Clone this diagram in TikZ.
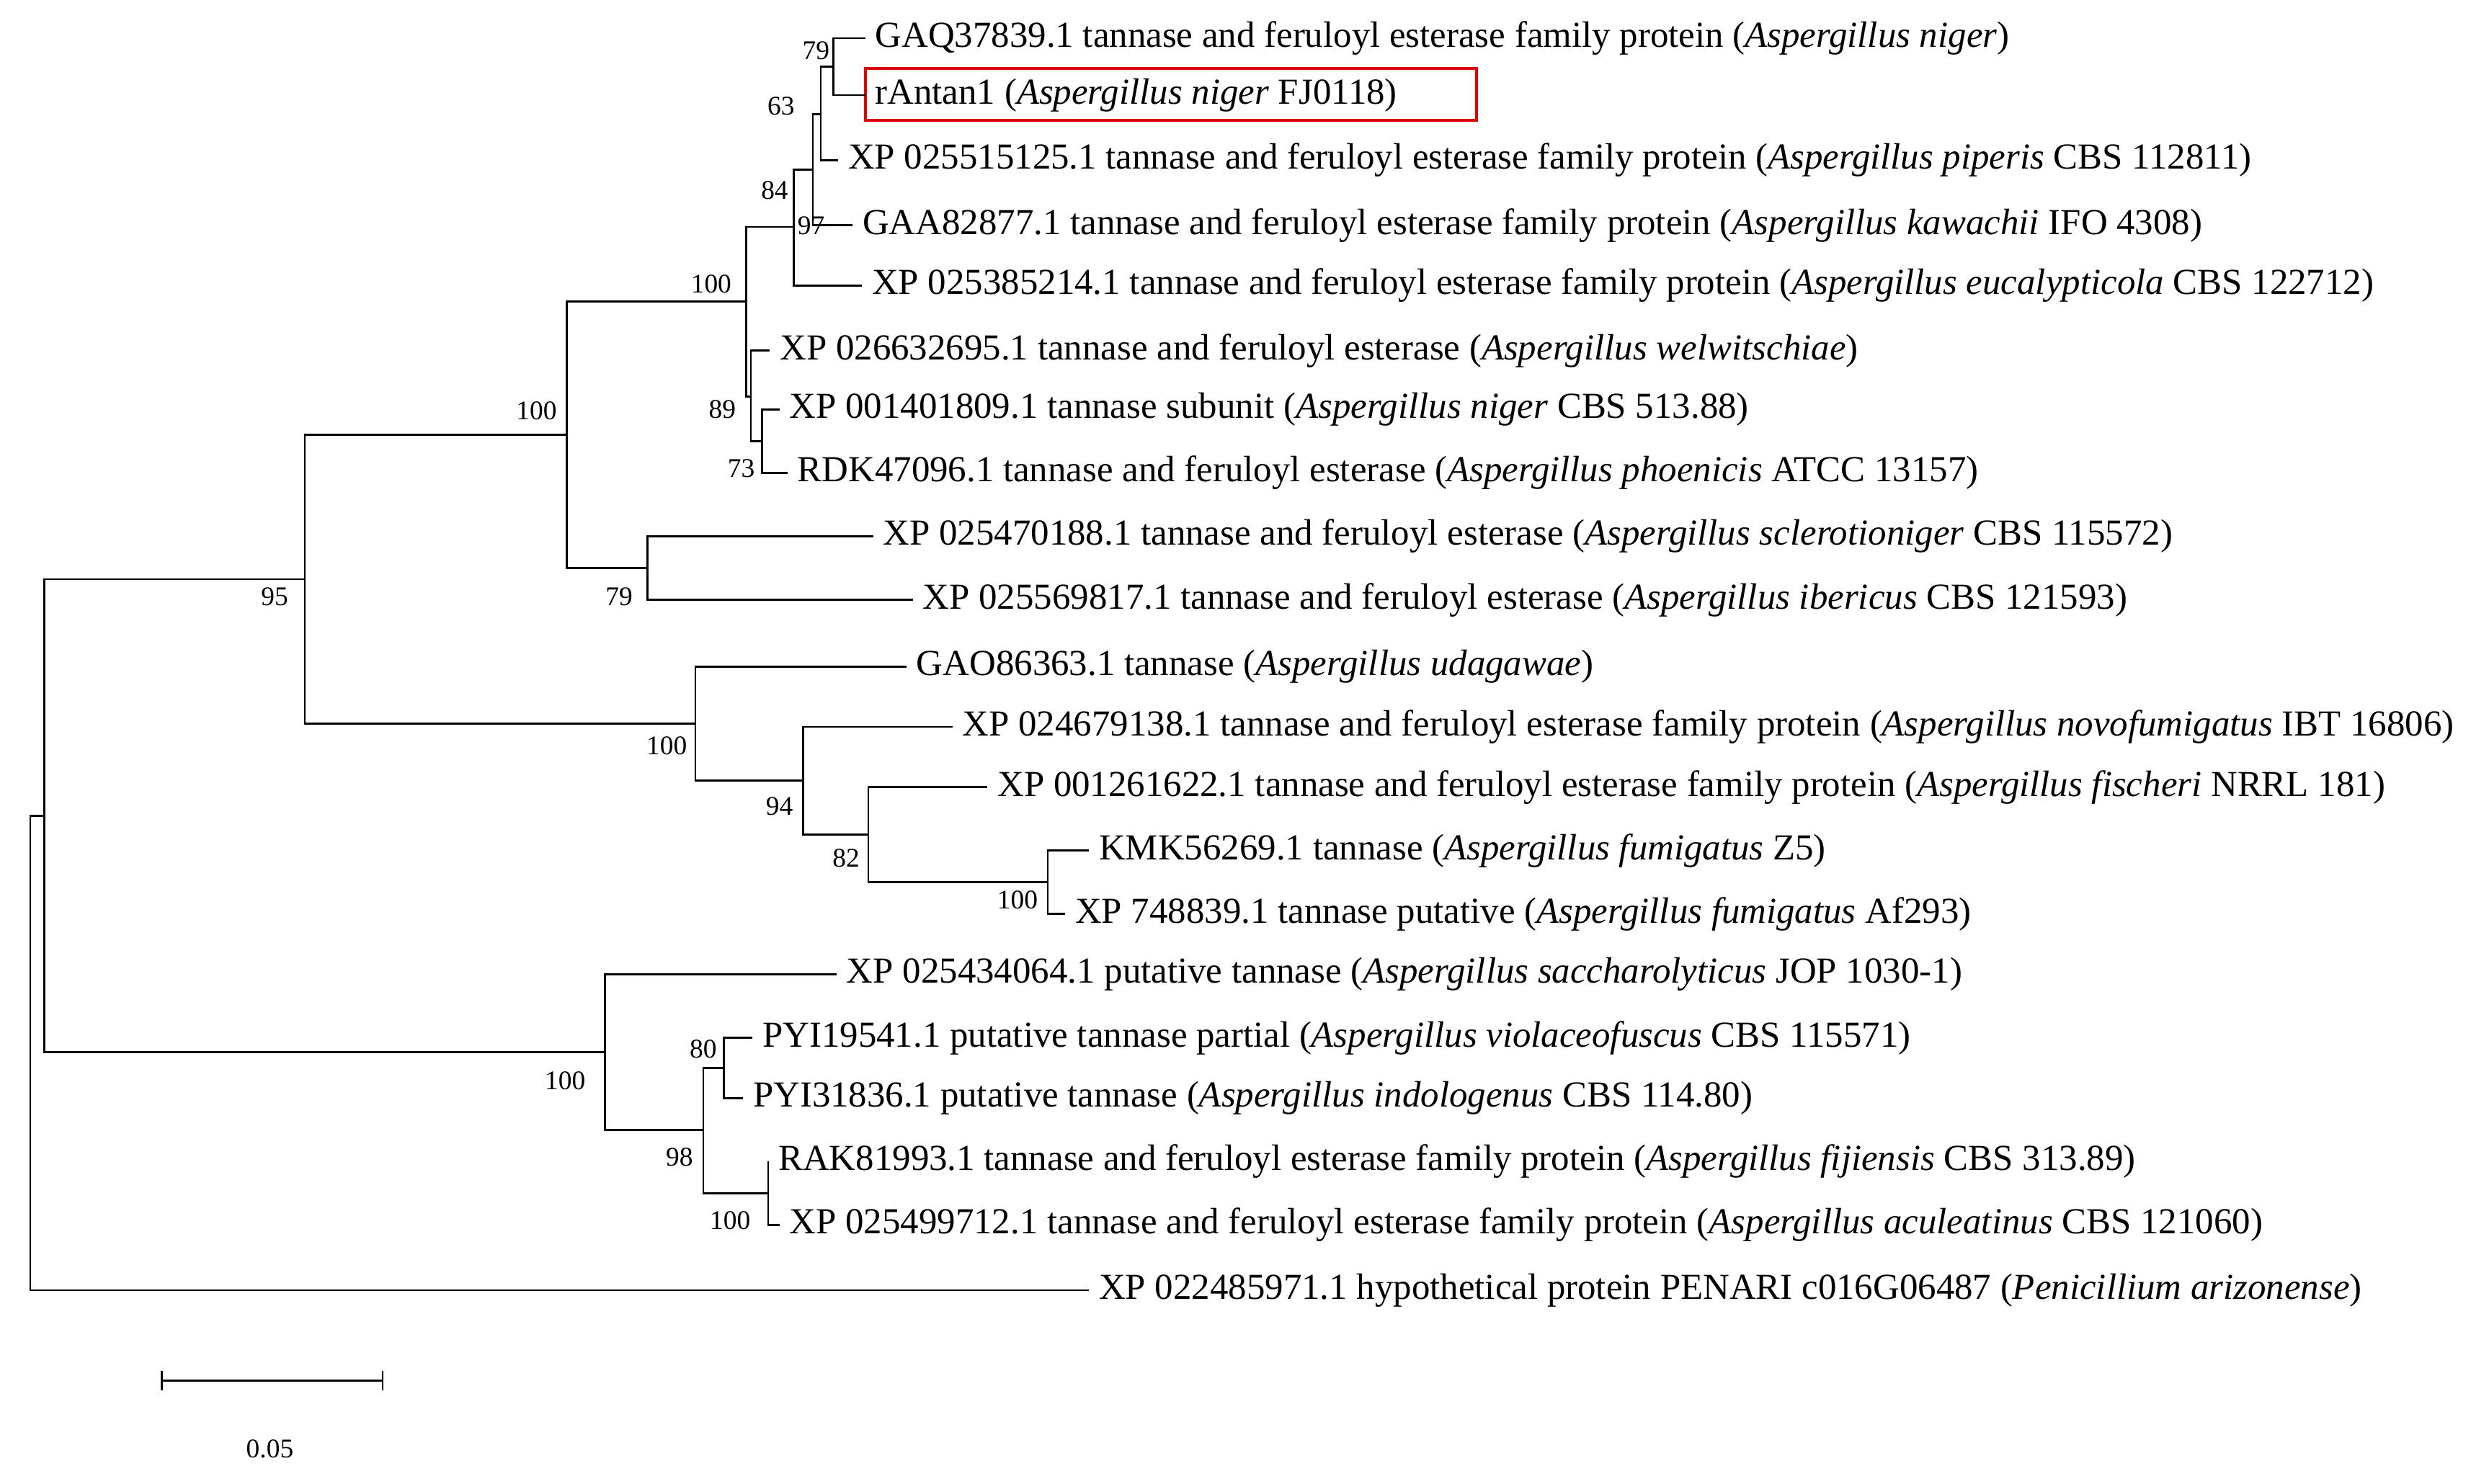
\documentclass[tikz,border=0pt]{standalone}
\usepackage{fontspec}
\setmainfont{Liberation Serif}
\begin{document}
\begin{tikzpicture}[x=0.5pt,y=-0.5pt,
  leaf/.style={anchor=west,inner xsep=3pt,inner ysep=1pt,font=\fontsize{11.55}{13}\selectfont},
  bs/.style={font=\fontsize{8.5}{10}\selectfont,inner sep=0pt},
  br/.style={line width=0.6pt}]
\useasboundingbox (0,0) rectangle (1568,935);
% leaves
\node[leaf] (l1) at (545,24) {GAQ37839.1 tannase and feruloyl esterase family protein (\textit{Aspergillus niger})};
\node[leaf] (l2) at (545,60) {rAntan1 (\textit{Aspergillus niger} FJ0118)};
\node[leaf] (l3) at (528,101) {XP 025515125.1 tannase and feruloyl esterase family protein (\textit{Aspergillus piperis} CBS 112811)};
\node[leaf] (l4) at (537,142) {GAA82877.1 tannase and feruloyl esterase family protein (\textit{Aspergillus kawachii} IFO 4308)};
\node[leaf] (l5) at (543,180) {XP 025385214.1 tannase and feruloyl esterase family protein (\textit{Aspergillus eucalypticola} CBS 122712)};
\node[leaf] (l6) at (485,221) {XP 026632695.1 tannase and feruloyl esterase (\textit{Aspergillus welwitschiae})};
\node[leaf] (l7) at (491,258) {XP 001401809.1 tannase subunit (\textit{Aspergillus niger} CBS 513.88)};
\node[leaf] (l8) at (496,298) {RDK47096.1 tannase and feruloyl esterase (\textit{Aspergillus phoenicis} ATCC 13157)};
\node[leaf] (l9) at (550,338) {XP 025470188.1 tannase and feruloyl esterase (\textit{Aspergillus sclerotioniger} CBS 115572)};
\node[leaf] (l10) at (575,378) {XP 025569817.1 tannase and feruloyl esterase (\textit{Aspergillus ibericus} CBS 121593)};
\node[leaf] (l11) at (571,420) {GAO86363.1 tannase (\textit{Aspergillus udagawae})};
\node[leaf] (l12) at (600,458) {XP 024679138.1 tannase and feruloyl esterase family protein (\textit{Aspergillus novofumigatus} IBT 16806)};
\node[leaf] (l13) at (622,496) {XP 001261622.1 tannase and feruloyl esterase family protein (\textit{Aspergillus fischeri} NRRL 181)};
\node[leaf] (l14) at (686,536) {KMK56269.1 tannase (\textit{Aspergillus fumigatus} Z5)};
\node[leaf] (l15) at (671,576) {XP 748839.1 tannase putative (\textit{Aspergillus fumigatus} Af293)};
\node[leaf] (l16) at (527,614) {XP 025434064.1 putative tannase (\textit{Aspergillus saccharolyticus} JOP 1030-1)};
\node[leaf] (l17) at (474,654) {PYI19541.1 putative tannase partial (\textit{Aspergillus violaceofuscus} CBS 115571)};
\node[leaf] (l18) at (468,692) {PYI31836.1 putative tannase (\textit{Aspergillus indologenus} CBS 114.80)};
\node[leaf] (l19) at (484,732) {RAK81993.1 tannase and feruloyl esterase family protein (\textit{Aspergillus fijiensis} CBS 313.89)};
\node[leaf] (l20) at (491,772) {XP 025499712.1 tannase and feruloyl esterase family protein (\textit{Aspergillus aculeatinus} CBS 121060)};
\node[leaf] (l21) at (686,813) {XP 022485971.1 hypothetical protein PENARI c016G06487 (\textit{Penicillium arizonense})};
\draw[red!85!black,line width=0.9pt] (545,43) rectangle (930,76);
% internal nodes
\coordinate (n79) at (525,42);
\coordinate (n63) at (517,72);
\coordinate (n97) at (512,107);
\coordinate (n84) at (500,143);
\coordinate (n73) at (480,278);
\coordinate (n89) at (473,250);
\coordinate (n100a) at (470,190);
\coordinate (n79b) at (408,358);
\coordinate (n100b) at (357,274);
\coordinate (n100c) at (660,556);
\coordinate (n82) at (547,526);
\coordinate (n94) at (506,492);
\coordinate (n100d) at (438,456);
\coordinate (n95) at (192,365);
\coordinate (n80) at (456,673);
\coordinate (n100e) at (484,752);
\coordinate (n98) at (443,712);
\coordinate (n100f) at (381,663);
\coordinate (n0) at (28,514);
\coordinate (root) at (19,660);
\begin{scope}[br]
\draw (n79) |- (l1.west); \draw (n79) |- (l2.west);
\draw (n63) |- (n79); \draw (n63) |- (l3.west);
\draw (n97) |- (n63); \draw (n97) |- (l4.west);
\draw (n84) |- (n97); \draw (n84) |- (l5.west);
\draw (n73) |- (l7.west); \draw (n73) |- (l8.west);
\draw (n89) |- (l6.west); \draw (n89) |- (n73);
\draw (n100a) |- (n84); \draw (n100a) |- (n89);
\draw (n79b) |- (l9.west); \draw (n79b) |- (l10.west);
\draw (n100b) |- (n100a); \draw (n100b) |- (n79b);
\draw (n100c) |- (l14.west); \draw (n100c) |- (l15.west);
\draw (n82) |- (l13.west); \draw (n82) |- (n100c);
\draw (n94) |- (l12.west); \draw (n94) |- (n82);
\draw (n100d) |- (l11.west); \draw (n100d) |- (n94);
\draw (n95) |- (n100b); \draw (n95) |- (n100d);
\draw (n80) |- (l17.west); \draw (n80) |- (l18.west);
\draw (n100e) |- (l19.west); \draw (n100e) |- (l20.west);
\draw (n98) |- (n80); \draw (n98) |- (n100e);
\draw (n100f) |- (l16.west); \draw (n100f) |- (n98);
\draw (n0) |- (n95); \draw (n0) |- (n100f);
\draw (root) |- (n0); \draw (root) |- (l21.west);
\end{scope}
% bootstrap labels
\node[bs] (b1) at (514,32) {79};
\node[bs] (b2) at (492,67) {63};
\node[bs] (b3) at (488,120) {84};
\node[bs] (b4) at (511,142) {97};
\node[bs] (b5) at (448,179) {100};
\node[bs] (b6) at (455,258) {89};
\node[bs] (b7) at (467,295) {73};
\node[bs] (b8) at (338,259) {100};
\node[bs] (b9) at (390,376) {79};
\node[bs] (b10) at (173,376) {95};
\node[bs] (b11) at (420,470) {100};
\node[bs] (b12) at (491,508) {94};
\node[bs] (b13) at (533,541) {82};
\node[bs] (b14) at (641,567) {100};
\node[bs] (b15) at (443,661) {80};
\node[bs] (b16) at (356,681) {100};
\node[bs] (b17) at (428,729) {98};
\node[bs] (b18) at (460,769) {100};
% scale bar
\coordinate (s1) at (102,870); \coordinate (s2) at (241,870);
\draw[br] (s1) -- (s2);
\draw[br] ([yshift=-3pt]s1) -- ([yshift=3pt]s1);
\draw[br] ([yshift=-3pt]s2) -- ([yshift=3pt]s2);
\node[bs] (sc) at (170,913) {0.05};
\end{tikzpicture}
\end{document}
